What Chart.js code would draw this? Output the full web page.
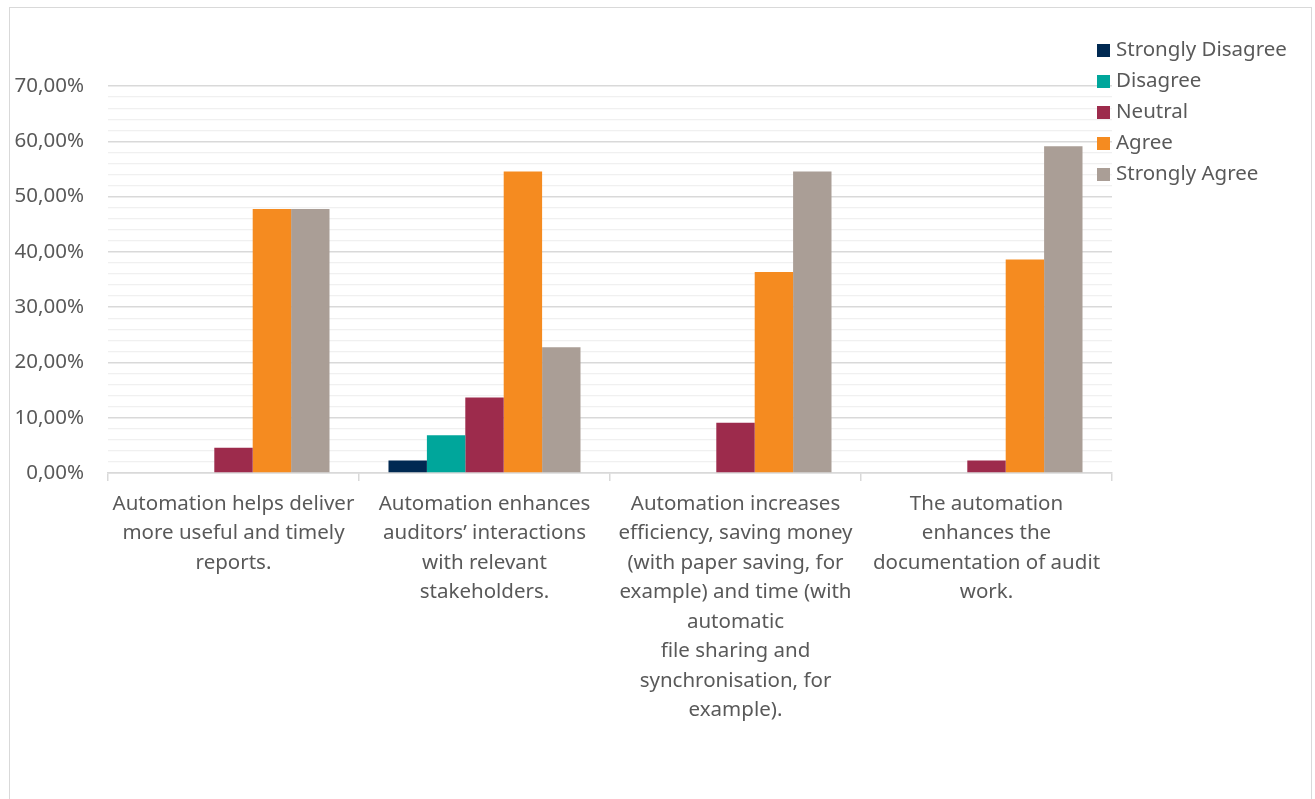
<!DOCTYPE html>
<html>
<head>
<meta charset="utf-8">
<script src="https://cdn.jsdelivr.net/npm/chart.js@4/dist/chart.umd.min.js"></script>
<style>
  html, body { margin: 0; padding: 0; background: #fff; }
  #frame { position: absolute; left: 9px; top: 7px; width: 1303px; height: 820px; border: 1px solid #d9d9d9; box-sizing: border-box; }
  #wrap { position: absolute; left: 0; top: 0; width: 1315px; height: 799px; }
</style>
</head>
<body>
<div id="frame"></div>
<div id="wrap"><canvas id="chart"></canvas></div>
<script>
const categories = [
  ['Automation helps deliver', 'more useful and timely', 'reports.'],
  ['Automation enhances', 'auditors’ interactions', 'with relevant', 'stakeholders.'],
  ['Automation increases', 'efficiency, saving money', '(with paper saving, for', 'example) and time (with', 'automatic', 'file sharing and', 'synchronisation, for', 'example).'],
  ['The automation', 'enhances the', 'documentation of audit', 'work.']
];
const strongDisagree = [0, 2.27, 0, 0];
const disagree = [0, 6.82, 0, 0];
const neutral = [4.55, 13.64, 9.09, 2.27];
const agree = [47.73, 54.55, 36.36, 38.64];
const strongAgree = [47.73, 22.73, 54.55, 59.09];

const FONT = 'Noto Sans';
const TEXT = '#595959';
const SIZE = 20.5;

// legend drawn in the top right corner, overlapping the plot edge like the original
const sideLegend = {
  id: 'sideLegend',
  afterDraw(chart) {
    const ctx = chart.ctx;
    ctx.save();
    ctx.font = SIZE + 'px "' + FONT + '"';
    ctx.textBaseline = 'middle';
    chart.data.datasets.forEach((ds, i) => {
      const y = 50 + i * 31;
      ctx.fillStyle = ds.backgroundColor;
      ctx.fillRect(1097, y - 6, 13, 13);
      ctx.fillStyle = TEXT;
      ctx.fillText(ds.label, 1116, y);
    });
    ctx.restore();
  }
};

new Chart(document.getElementById('chart'), {
  type: 'bar',
  data: {
    labels: categories,
    datasets: [
      { label: 'Strongly Disagree', data: strongDisagree, backgroundColor: '#002952' },
      { label: 'Disagree', data: disagree, backgroundColor: '#00a69b' },
      { label: 'Neutral', data: neutral, backgroundColor: '#9d2b4c' },
      { label: 'Agree', data: agree, backgroundColor: '#f58b20' },
      { label: 'Strongly Agree', data: strongAgree, backgroundColor: '#aa9e96' }
    ]
  },
  options: {
    responsive: true,
    maintainAspectRatio: false,
    animation: false,
    layout: { padding: { top: 86, right: 203, left: 0, bottom: 0 } },
    datasets: { bar: { categoryPercentage: 0.765, barPercentage: 1 } },
    plugins: {
      legend: { display: false },
      tooltip: { enabled: false }
    },
    scales: {
      x: {
        afterFit: s => { s.height = 326; },
        border: { color: '#d9d9d9', width: 1.5 },
        grid: { offset: true, drawOnChartArea: false, drawTicks: true, tickLength: 8, color: '#d9d9d9', lineWidth: 1.5 },
        ticks: {
          autoSkip: false, maxRotation: 0, padding: 8,
          color: TEXT, font: { family: FONT, size: SIZE, lineHeight: 1.44 }
        }
      },
      y: {
        min: 0, max: 70,
        afterFit: s => { s.width = 108; },
        border: { display: false },
        grid: {
          drawTicks: false,
          color: c => (Math.round(c.tick.value) % 10 === 0 ? '#d9d9d9' : '#f0f0f0'),
          lineWidth: c => (Math.round(c.tick.value) % 10 === 0 ? 1.5 : 1.2)
        },
        ticks: {
          stepSize: 2, autoSkip: false, padding: 24, color: TEXT,
          font: { family: FONT, size: SIZE },
          callback: v => (Math.round(v) % 10 === 0 ? Math.round(v).toFixed(2).replace('.', ',') + '%' : '')
        }
      }
    }
  },
  plugins: [sideLegend]
});
</script>
</body>
</html>
